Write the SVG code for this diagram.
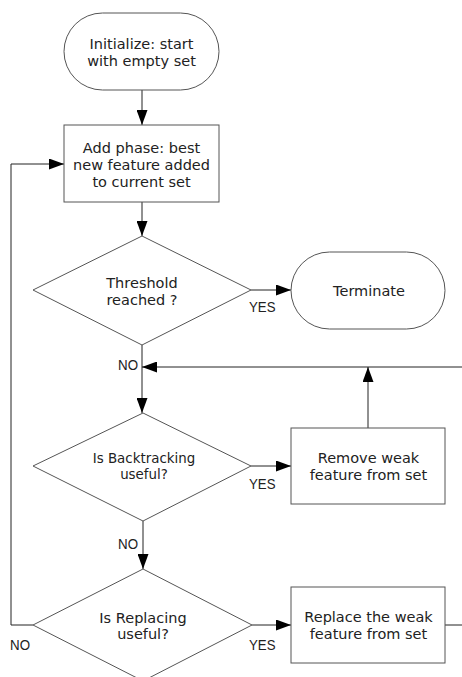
<svg xmlns="http://www.w3.org/2000/svg" width="462" height="677" viewBox="0 0 462 677">
<style>
.shape{fill:#fff;stroke:#555;stroke-width:1}
.t{font-family:"DejaVu Sans",Verdana,sans-serif;font-size:14.5px;fill:#222;text-anchor:middle}
.s{font-size:13.4px}
.lbl{font-family:"Liberation Sans Narrow","Liberation Sans",Arial,sans-serif;font-size:15.5px;fill:#222}
.c{fill:none;stroke:#222;stroke-width:1}
</style>
<defs>
<marker id="ah" viewBox="0 0 15 11" refX="15" refY="5.5" markerWidth="15" markerHeight="11" markerUnits="userSpaceOnUse" orient="auto">
<path d="M0,0 L15,5.5 L0,11 Z" fill="#000"/>
</marker>
</defs>
<g id="connectors">
<path class="c" d="M142,90 V125" marker-end="url(#ah)"/>
<path class="c" d="M142,202 V236" marker-end="url(#ah)"/>
<path class="c" d="M251,290 H291" marker-end="url(#ah)"/>
<path class="c" d="M142,345 V413" marker-end="url(#ah)"/>
<path class="c" d="M462,367 H142" marker-end="url(#ah)"/>
<path class="c" d="M368,428 V367" marker-end="url(#ah)"/>
<path class="c" d="M251,466 H291" marker-end="url(#ah)"/>
<path class="c" d="M143,521 V569" marker-end="url(#ah)"/>
<path class="c" d="M252,625 H291" marker-end="url(#ah)"/>
<path class="c" d="M445,625 H462"/>
<path class="c" d="M33,625 H11 V164 H64" marker-end="url(#ah)"/>
<text class="lbl" x="249" y="311.5" textLength="26.5" lengthAdjust="spacingAndGlyphs">YES</text>
<text class="lbl" x="118" y="369.5" textLength="20" lengthAdjust="spacingAndGlyphs">NO</text>
<text class="lbl" x="249" y="489" textLength="26.5" lengthAdjust="spacingAndGlyphs">YES</text>
<text class="lbl" x="118" y="549" textLength="20" lengthAdjust="spacingAndGlyphs">NO</text>
<text class="lbl" x="249" y="650" textLength="26.5" lengthAdjust="spacingAndGlyphs">YES</text>
<text class="lbl" x="10" y="650" textLength="20" lengthAdjust="spacingAndGlyphs">NO</text>
</g>
<g id="init">
<rect class="shape" x="64" y="13" width="155" height="77" rx="38.5" ry="38.5"/>
<text class="t" x="141.5" y="49">Initialize: start</text>
<text class="t" x="141.5" y="66">with empty set</text>
</g>
<g id="add">
<rect class="shape" x="64" y="125" width="155" height="77"/>
<text class="t" x="141.5" y="152.5">Add phase: best</text>
<text class="t" x="141.5" y="170">new feature added</text>
<text class="t" x="141.5" y="187">to current set</text>
</g>
<g id="threshold">
<polygon class="shape" points="142,236 251,290 142,345 33,290"/>
<text class="t" x="142" y="287.5">Threshold</text>
<text class="t" x="142" y="305">reached ?</text>
</g>
<g id="terminate">
<rect class="shape" x="291" y="252" width="154" height="77" rx="38.5" ry="38.5"/>
<text class="t" x="369" y="296">Terminate</text>
</g>
<g id="backtrack">
<polygon class="shape" points="143,413 251,466 143,521 33,466"/>
<text class="t s" x="144" y="463">Is Backtracking</text>
<text class="t s" x="144" y="479">useful?</text>
</g>
<g id="remove">
<rect class="shape" x="291" y="428" width="154" height="76"/>
<text class="t" x="368.5" y="463">Remove weak</text>
<text class="t" x="368.5" y="480">feature from set</text>
</g>
<g id="replacing">
<polygon class="shape" points="143,569 252,625 143,681 33,625"/>
<text class="t" x="143" y="622.5">Is Replacing</text>
<text class="t" x="143" y="639">useful?</text>
</g>
<g id="replace">
<rect class="shape" x="291" y="587" width="154" height="76"/>
<text class="t" x="368.5" y="621.5">Replace the weak</text>
<text class="t" x="368.5" y="638.5">feature from set</text>
</g>
</svg>
